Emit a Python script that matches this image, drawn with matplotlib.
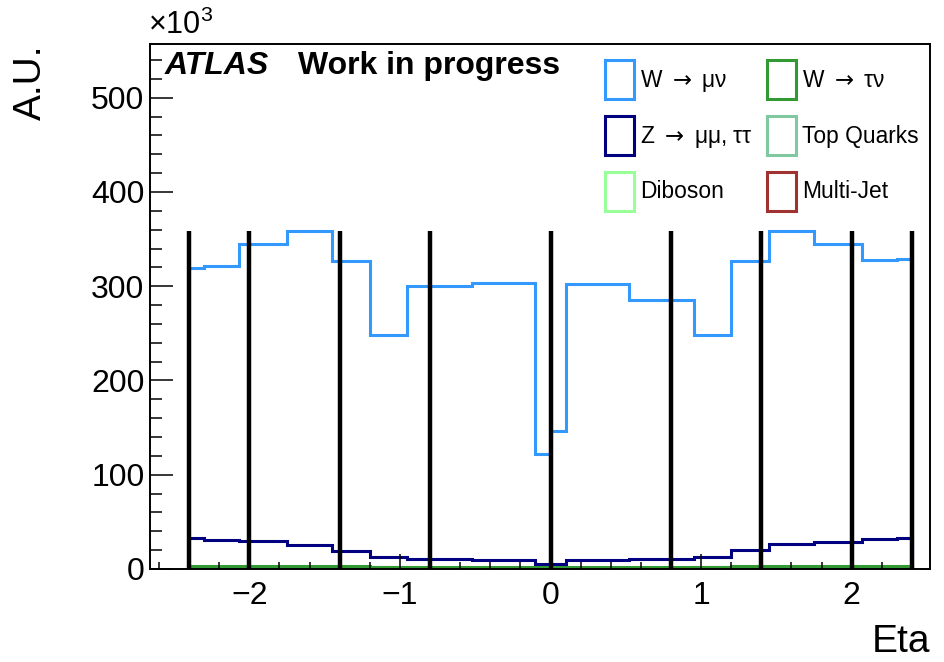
import numpy as np
import matplotlib
matplotlib.use('Agg')
import matplotlib.pyplot as plt
from matplotlib.patches import Patch
from matplotlib.ticker import MultipleLocator

plt.rcParams['font.family'] = ['Liberation Sans', 'DejaVu Sans']
plt.rcParams['mathtext.fontset'] = 'dejavusans'

# eta bin edges
edges = [-2.4, -2.3, -2.07, -1.75, -1.45, -1.2, -0.95, -0.52, -0.1, 0.0,
         0.1, 0.52, 0.95, 1.2, 1.45, 1.75, 2.07, 2.3, 2.4]

# event counts, in units of 10^3
w_munu = [319.5, 321.7, 344.7, 359.0, 327.0, 248.4, 300.4, 303.3, 122.0,
          146.8, 302.5, 285.6, 248.4, 327.0, 359.0, 344.7, 327.7, 329.0]
z_mumu = [32.6, 30.8, 29.7, 25.5, 19.1, 12.4, 10.9, 9.9, 5.0,
          5.0, 9.9, 10.9, 12.4, 20.0, 26.0, 28.8, 31.3, 33.4]
w_taunu = [3.3, 3.3, 3.4, 3.3, 3.0, 2.6, 2.5, 2.4, 1.6,
           1.6, 2.4, 2.5, 2.6, 3.0, 3.3, 3.4, 3.3, 3.3]
multijet = [1.8, 1.8, 2.0, 2.2, 2.0, 1.6, 1.4, 1.3, 0.8,
            0.8, 1.3, 1.4, 1.6, 2.0, 2.2, 2.0, 1.8, 1.8]
top = [0.6, 0.6, 0.7, 0.7, 0.7, 0.6, 0.6, 0.6, 0.4,
       0.4, 0.6, 0.6, 0.6, 0.7, 0.7, 0.7, 0.6, 0.6]
diboson = [0.3, 0.3, 0.3, 0.3, 0.3, 0.3, 0.3, 0.3, 0.2,
           0.2, 0.3, 0.3, 0.3, 0.3, 0.3, 0.3, 0.3, 0.3]

# region boundaries drawn as black lines
boundaries = [-2.4, -2.0, -1.4, -0.8, 0.0, 0.8, 1.4, 2.0, 2.4]

# legend order filled column by column: left column, then right column
labels = ['W$\\;\\rightarrow\\;$μν', 'Z$\\;\\rightarrow\\;$μμ, ττ', 'Diboson',
          'W$\\;\\rightarrow\\;$τν', 'Top Quarks', 'Multi-Jet']
colors = ['#3399ff', '#000080', '#99ff99', '#339933', '#80c8a0', '#a03232']

fig = plt.figure(figsize=(9.44, 6.62), dpi=100)
ax = fig.add_axes([150/944, 1-569/662, 780/944, 525/662])

ax.stairs(diboson, edges, color=colors[2], lw=2.2)
ax.stairs(top, edges, color=colors[4], lw=2.2)
ax.stairs(multijet, edges, color=colors[5], lw=2.2)
ax.stairs(w_taunu, edges, color=colors[3], lw=2.2)
ax.stairs(z_mumu, edges, color=colors[1], lw=2.2)
ax.stairs(w_munu, edges, color=colors[0], lw=2.2)
ax.vlines(boundaries, 0, max(w_munu), color='black', lw=3.2, zorder=5)

ax.set_xlim(-2.66, 2.52)
ax.set_ylim(0, 557)
ax.xaxis.set_major_locator(MultipleLocator(1))
ax.xaxis.set_minor_locator(MultipleLocator(0.2))
ax.yaxis.set_major_locator(MultipleLocator(100))
ax.yaxis.set_minor_locator(MultipleLocator(20))
ax.tick_params(axis='both', which='both', direction='in', top=False, right=False,
               width=1.1, labelsize=23)
ax.tick_params(axis='y', which='major', length=16.5, pad=4)
ax.tick_params(axis='y', which='minor', length=8.6)
ax.tick_params(axis='x', which='major', length=10.8, pad=9)
ax.tick_params(axis='x', which='minor', length=5)
ax.set_xticks([-2, -1, 0, 1, 2])
ax.set_xticklabels(['\u22122', '\u22121', '0', '1', '2'])
for s in ax.spines.values():
    s.set_linewidth(1.4)

ax.set_xlabel('Eta', loc='right', fontsize=28, labelpad=9)
ax.set_ylabel('A.U.', loc='top', fontsize=28, labelpad=30)

ax.text(-0.003, 1.005, r'$\mathregular{\times10^{3}}$', transform=ax.transAxes,
        ha='left', va='bottom', fontsize=22)

fig.text(165/944, 1-66/662, 'ATLAS', fontsize=23, fontweight='bold',
         fontstyle='italic', va='center', ha='left')
fig.text(298/944, 1-66/662, 'Work in progress', fontsize=23, fontweight='bold',
         va='center', ha='left')

handles = [Patch(facecolor='none', edgecolor=c, lw=2.2) for c in colors]
ax.legend(handles, labels, ncol=2, frameon=False, fontsize=16.4,
          loc='upper left', bbox_to_anchor=(605/944, 1-60/662),
          bbox_transform=fig.transFigure, borderpad=0, borderaxespad=0,
          handlelength=1.27, handleheight=2.25, handletextpad=0.26,
          labelspacing=0.75, columnspacing=0.62)

fig.savefig('out.png', dpi=100)
